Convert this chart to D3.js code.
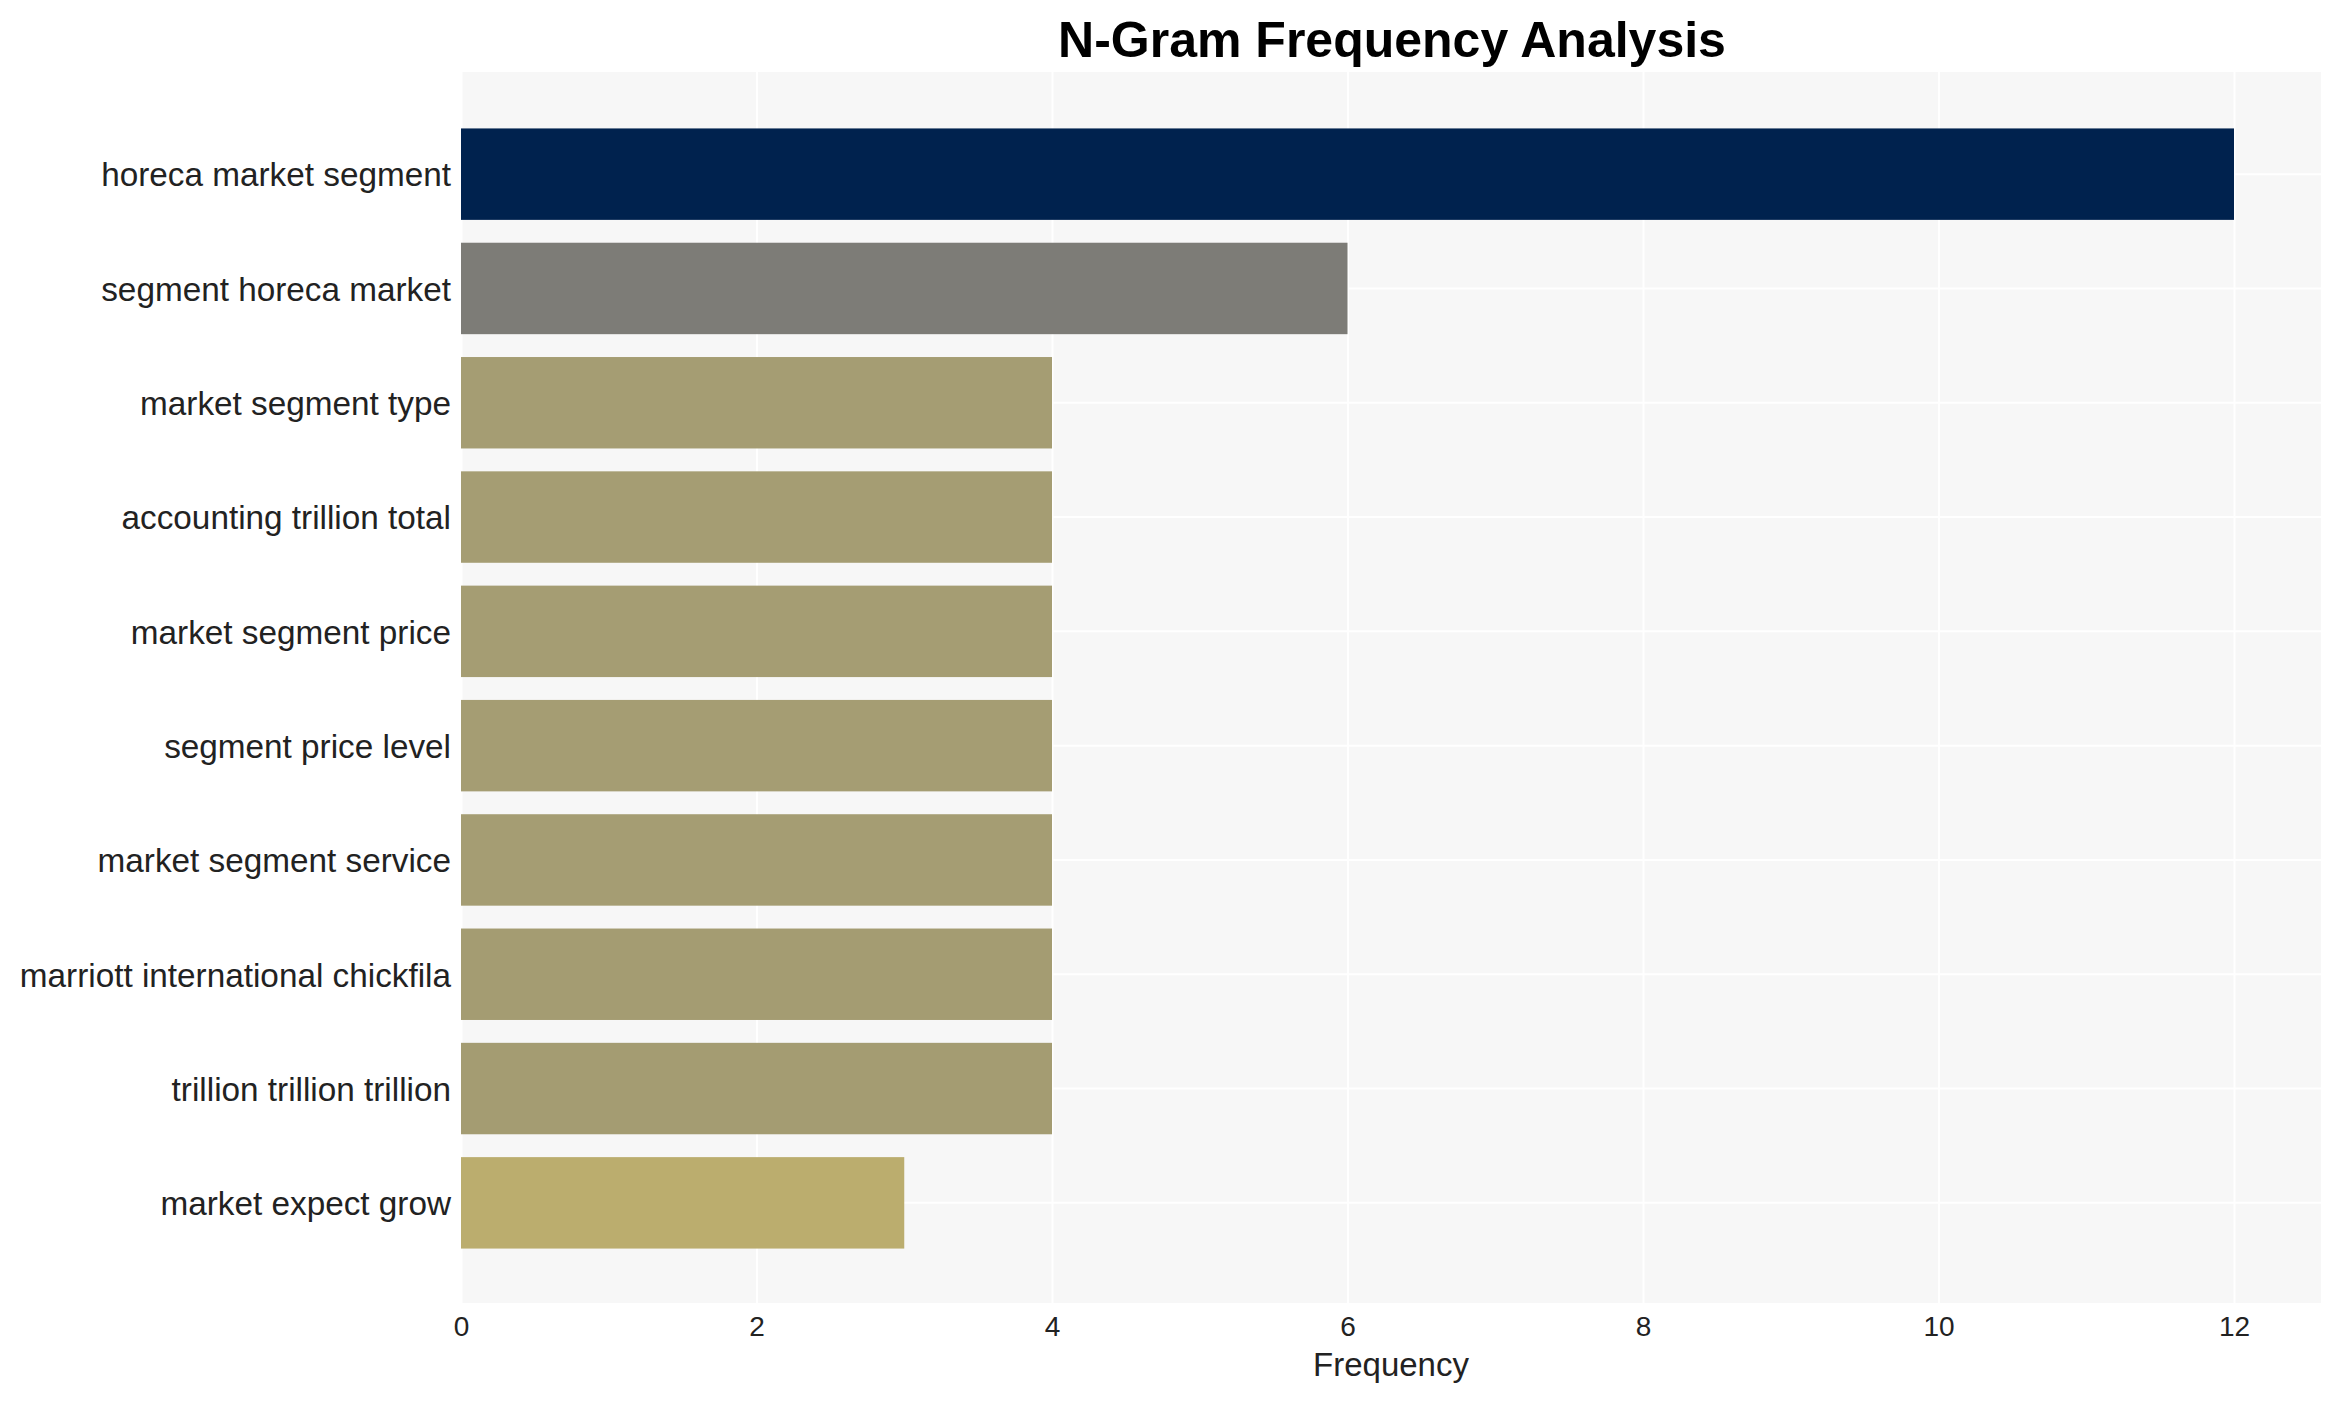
<!DOCTYPE html>
<html>
<head>
<meta charset="utf-8">
<script src="https://cdn.jsdelivr.net/npm/d3@7"></script>
<style>
  html, body { margin: 0; padding: 0; background: #fff; }
  svg { display: block; font-family: "Liberation Sans", Arial, sans-serif; }
</style>
</head>
<body>
<svg id="chart" width="2341" height="1402"></svg>
<script>
// Data
const categories = [
  "horeca market segment",
  "segment horeca market",
  "market segment type",
  "accounting trillion total",
  "market segment price",
  "segment price level",
  "market segment service",
  "marriott international chickfila",
  "trillion trillion trillion",
  "market expect grow"
];
const frequencies = [12, 6, 4, 4, 4, 4, 4, 4, 4, 3];
const barColors = [
  "#00224e", "#7d7c77", "#a59d73", "#a59d73", "#a59d73",
  "#a59d73", "#a59d73", "#a49c72", "#a49c72", "#bbad6e"
];
const xTicks = [0, 2, 4, 6, 8, 10, 12];

document.addEventListener("DOMContentLoaded", function() {
  const svg = d3.select("#chart");

  // Panel box
  const panel = { left: 461, right: 2321, top: 72, bottom: 1303 };

  // Scales
  const xScale = d3.scaleLinear()
    .domain([0, 12])
    .range([461, 2234]);

  const yScale = d3.scaleBand()
    .domain(categories)
    .range([117, 1260])
    .paddingInner(0.2)
    .paddingOuter(0.1);

  // Panel background
  svg.append("rect")
    .attr("x", panel.left)
    .attr("y", panel.top)
    .attr("width", panel.right - panel.left)
    .attr("height", panel.bottom - panel.top)
    .attr("fill", "#f7f7f7");

  // Vertical grid lines
  svg.append("g")
    .attr("transform", "translate(0," + panel.bottom + ")")
    .call(d3.axisBottom(xScale).tickValues(xTicks).tickSize(-(panel.bottom - panel.top)).tickFormat(""))
    .call(g => g.select(".domain").remove())
    .selectAll("line")
    .attr("stroke", "#ffffff")
    .attr("stroke-width", 2);

  // Horizontal grid lines at category centres
  svg.append("g")
    .selectAll("line")
    .data(categories)
    .enter()
    .append("line")
    .attr("x1", panel.left)
    .attr("x2", panel.right)
    .attr("y1", d => yScale(d) + yScale.bandwidth() / 2)
    .attr("y2", d => yScale(d) + yScale.bandwidth() / 2)
    .attr("stroke", "#ffffff")
    .attr("stroke-width", 2);

  // Bars
  svg.selectAll(".bar")
    .data(categories)
    .enter()
    .append("rect")
    .attr("class", "bar")
    .attr("x", xScale(0))
    .attr("y", d => yScale(d))
    .attr("width", (d, i) => xScale(frequencies[i]) - xScale(0))
    .attr("height", yScale.bandwidth())
    .attr("fill", (d, i) => barColors[i]);

  // X axis labels
  svg.append("g")
    .attr("transform", "translate(0," + panel.bottom + ")")
    .call(d3.axisBottom(xScale).tickValues(xTicks).tickSize(0).tickPadding(32.5))
    .call(g => g.select(".domain").remove())
    .selectAll("text")
    .attr("font-family", "Liberation Sans, Arial, sans-serif")
    .attr("font-size", 28)
    .attr("fill", "#222222")
    .attr("dy", 0);

  // Y axis labels
  svg.append("g")
    .attr("transform", "translate(" + panel.left + ",0)")
    .call(d3.axisLeft(yScale).tickSize(0).tickPadding(10))
    .call(g => g.select(".domain").remove())
    .selectAll("text")
    .attr("font-family", "Liberation Sans, Arial, sans-serif")
    .attr("font-size", 33.3)
    .attr("fill", "#222222")
    .attr("dy", "0.37em");

  // Axis title
  svg.append("text")
    .attr("x", 1391)
    .attr("y", 1376)
    .attr("text-anchor", "middle")
    .attr("font-size", 33)
    .attr("fill", "#222222")
    .text("Frequency");

  // Chart title
  svg.append("text")
    .attr("x", 1392)
    .attr("y", 57)
    .attr("text-anchor", "middle")
    .attr("font-size", 50)
    .attr("font-weight", "bold")
    .attr("fill", "#000000")
    .text("N-Gram Frequency Analysis");
});
</script>
</body>
</html>
